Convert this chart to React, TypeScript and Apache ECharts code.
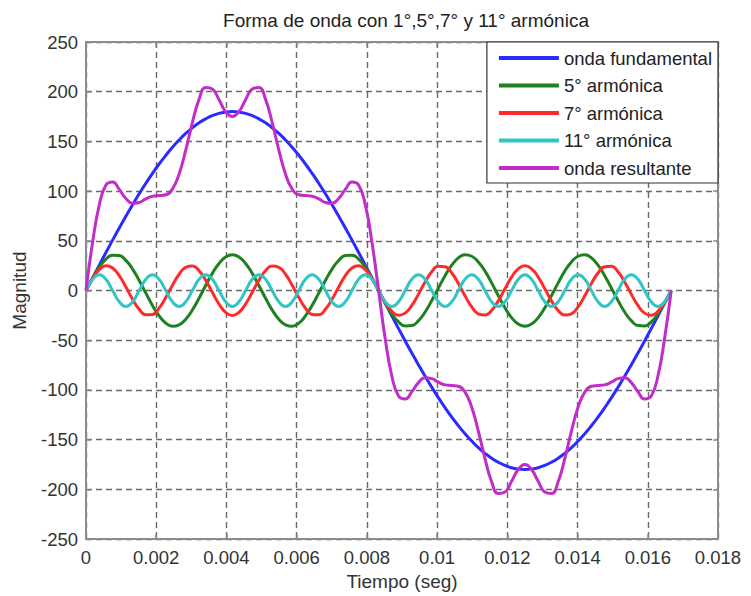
import React, { useEffect, useRef } from "react";
import * as echarts from "echarts";

const TITLE = "Forma de onda con 1°,5°,7° y 11° armónica";
const X_NAME = "Tiempo (seg)";
const Y_NAME = "Magnitud";
const SERIES_NAMES = ["onda fundamental", "5° armónica", "7° armónica", "11° armónica", "onda resultante"];
const SERIES_COLORS = ["#2b2bff", "#1f801f", "#ff2a2a", "#33c4c4", "#c22cc8"];

const TIME = [
  0, 0.000189, 0.000379, 0.000568, 0.000758, 0.000947, 0.001136, 0.001326, 0.001515, 0.001705,
  0.001894, 0.002083, 0.002273, 0.002462, 0.002652, 0.002841, 0.00303, 0.00322, 0.003409, 0.003598,
  0.003788, 0.003977, 0.004167, 0.004356, 0.004545, 0.004735, 0.004924, 0.005114, 0.005303, 0.005492,
  0.005682, 0.005871, 0.006061, 0.00625, 0.006439, 0.006629, 0.006818, 0.007008, 0.007197, 0.007386,
  0.007576, 0.007765, 0.007955, 0.008144, 0.008333, 0.008523, 0.008712, 0.008902, 0.009091, 0.00928,
  0.00947, 0.009659, 0.009848, 0.010038, 0.010227, 0.010417, 0.010606, 0.010795, 0.010985, 0.011174,
  0.011364, 0.011553, 0.011742, 0.011932, 0.012121, 0.012311, 0.0125, 0.012689, 0.012879, 0.013068,
  0.013258, 0.013447, 0.013636, 0.013826, 0.014015, 0.014205, 0.014394, 0.014583, 0.014773, 0.014962,
  0.015152, 0.015341, 0.01553, 0.01572, 0.015909, 0.016098, 0.016288, 0.016477, 0.016667,
];

const FUND = [
  0, 12.8, 25.6, 38.3, 50.7, 62.9, 74.8, 86.3, 97.3, 107.9, 117.9, 127.3, 136.0, 144.1, 151.4, 158.0, 163.7, 168.7, 172.7, 175.9, 178.2, 179.5, 180,
  179.5, 178.2, 175.9, 172.7, 168.7, 163.7, 158.0, 151.4, 144.1, 136.0, 127.3, 117.9, 107.9, 97.3, 86.3, 74.8, 62.9, 50.7, 38.3, 25.6, 12.8, 0,
  -12.8, -25.6, -38.3, -50.7, -62.9, -74.8, -86.3, -97.3, -107.9, -117.9, -127.3, -136.0, -144.1, -151.4, -158.0, -163.7, -168.7, -172.7, -175.9, -178.2, -179.5, -180,
  -179.5, -178.2, -175.9, -172.7, -168.7, -163.7, -158.0, -151.4, -144.1, -136.0, -127.3, -117.9, -107.9, -97.3, -86.3, -74.8, -62.9, -50.7, -38.3, -25.6, -12.8, 0,
];

const H5 = [
  0, 12.6, 23.6, 31.6, 35.6, 35.2, 30.3, 21.6, 10.1, -2.6, -15.0, -25.5, -32.8, -35.9, -34.5, -28.8, -19.5, -7.7, 5.1, 17.3, 27.2, 33.7, 36,
  33.7, 27.2, 17.3, 5.1, -7.7, -19.5, -28.8, -34.5, -35.9, -32.8, -25.5, -15.0, -2.6, 10.1, 21.6, 30.3, 35.2, 35.6, 31.6, 23.6, 12.6, 0,
  -12.6, -23.6, -31.6, -35.6, -35.2, -30.3, -21.6, -10.1, 2.6, 15.0, 25.5, 32.8, 35.9, 34.5, 28.8, 19.5, 7.7, -5.1, -17.3, -27.2, -33.7, -36,
  -33.7, -27.2, -17.3, -5.1, 7.7, 19.5, 28.8, 34.5, 35.9, 32.8, 25.5, 15.0, 2.6, -10.1, -21.6, -30.3, -35.2, -35.6, -31.6, -23.6, -12.6, 0,
];

const H7 = [
  0, 12.0, 21.0, 24.9, 22.7, 15.0, 3.6, -8.7, -18.9, -24.4, -24.0, -17.7, -7.0, 5.3, 16.4, 23.4, 24.7, 20.0, 10.4, -1.8, -13.5, -21.9, -25,
  -21.9, -13.5, -1.8, 10.4, 20.0, 24.7, 23.4, 16.4, 5.3, -7.0, -17.7, -24.0, -24.4, -18.9, -8.7, 3.6, 15.0, 22.7, 24.9, 21.0, 12.0, 0,
  -12.0, -21.0, -24.9, -22.7, -15.0, -3.6, 8.7, 18.9, 24.4, 24.0, 17.7, 7.0, -5.3, -16.4, -23.4, -24.7, -20.0, -10.4, 1.8, 13.5, 21.9, 25,
  21.9, 13.5, 1.8, -10.4, -20.0, -24.7, -23.4, -16.4, -5.3, 7.0, 17.7, 24.0, 24.4, 18.9, 8.7, -3.6, -15.0, -22.7, -24.9, -21.0, -12.0, 0,
];

const H11 = [
  0, 11.3, 16, 11.3, 0, -11.3, -16, -11.3, 0, 11.3, 16, 11.3, 0, -11.3, -16, -11.3, 0, 11.3, 16, 11.3, 0, -11.3, -16,
  -11.3, 0, 11.3, 16, 11.3, 0, -11.3, -16, -11.3, 0, 11.3, 16, 11.3, 0, -11.3, -16, -11.3, 0, 11.3, 16, 11.3, 0,
  -11.3, -16, -11.3, 0, 11.3, 16, 11.3, 0, -11.3, -16, -11.3, 0, 11.3, 16, 11.3, 0, -11.3, -16, -11.3, 0, 11.3, 16,
  11.3, 0, -11.3, -16, -11.3, 0, 11.3, 16, 11.3, 0, -11.3, -16, -11.3, 0, 11.3, 16, 11.3, 0, -11.3, -16, -11.3, 0,
];

const RES = [
  0, 48.7, 86.2, 106.1, 109.1, 101.8, 92.6, 87.8, 88.6, 92.2, 94.9, 95.5, 96.3, 102.2, 117.3, 141.3, 169.0, 192.3, 204.2, 202.7, 191.9, 180.0, 175,
  180.0, 191.9, 202.7, 204.2, 192.3, 169.0, 141.3, 117.3, 102.2, 96.3, 95.5, 94.9, 92.2, 88.6, 87.8, 92.6, 101.8, 109.1, 106.1, 86.2, 48.7, 0,
  -48.7, -86.2, -106.1, -109.1, -101.8, -92.6, -87.8, -88.6, -92.2, -94.9, -95.5, -96.3, -102.2, -117.3, -141.3, -169.0, -192.3, -204.2, -202.7, -191.9, -180.0, -175,
  -180.0, -191.9, -202.7, -204.2, -192.3, -169.0, -141.3, -117.3, -102.2, -96.3, -95.5, -94.9, -92.2, -88.6, -87.8, -92.6, -101.8, -109.1, -106.1, -86.2, -48.7, 0,
];

const SERIES_VALUES = [FUND, H5, H7, H11, RES];

const FONT = "'Liberation Sans', Arial, Helvetica, sans-serif";
const FRAME = "#8c8c8c";
const GRIDC = "#6a6a6a";
const TXT = "#333333";

export default function App() {
  const ref = useRef<HTMLDivElement>(null);

  useEffect(() => {
    if (!ref.current) return;
    const chart = echarts.init(ref.current, undefined, { renderer: "svg" });
    const splitLine = { show: true, lineStyle: { color: GRIDC, width: 1.4, type: [6, 4] as any } };
    const frameLine = { show: true, onZero: false, lineStyle: { color: FRAME, width: 2 } };
    const tick = { show: true, inside: true, length: 5, lineStyle: { color: FRAME, width: 1.5 } };
    const xFmt = (v: number) => (v === 0 ? "0" : String(parseFloat(v.toFixed(4))));

    chart.setOption({
      animation: false,
      backgroundColor: "#ffffff",
      textStyle: { fontFamily: FONT },
      title: {
        text: TITLE,
        left: 401,
        textAlign: "center",
        top: 6,
        textStyle: { fontFamily: FONT, fontSize: 19, fontWeight: "normal", color: "#222" },
      },
      grid: { left: 86, right: 33, top: 42, bottom: 52, containLabel: false },
      legend: {
        orient: "vertical",
        right: 33,
        top: 42,
        data: SERIES_NAMES,
        icon: "rect",
        itemWidth: 60,
        itemHeight: 4,
        itemGap: 7.5,
        padding: [6, 6, 5, 12],
        backgroundColor: "#ffffff",
        borderColor: "#333333",
        borderWidth: 1.2,
        borderRadius: 0,
        textStyle: { fontFamily: FONT, fontSize: 18.5, color: "#222", lineHeight: 20 },
      },
      xAxis: [
        {
          type: "value",
          min: 0,
          max: 0.018,
          interval: 0.002,
          name: X_NAME,
          nameLocation: "middle",
          nameGap: 30,
          nameTextStyle: { fontFamily: FONT, fontSize: 19, color: TXT },
          axisLine: frameLine,
          axisTick: tick,
          axisLabel: { fontFamily: FONT, fontSize: 18.5, color: TXT, margin: 9, formatter: xFmt },
          splitLine,
        },
        {
          type: "value",
          position: "top",
          min: 0,
          max: 0.018,
          interval: 0.002,
          axisLine: frameLine,
          axisTick: tick,
          axisLabel: { show: false },
          splitLine: { show: false },
        },
      ],
      yAxis: [
        {
          type: "value",
          min: -250,
          max: 250,
          interval: 50,
          name: Y_NAME,
          nameLocation: "middle",
          nameGap: 57,
          nameTextStyle: { fontFamily: FONT, fontSize: 19, color: TXT },
          axisLine: frameLine,
          axisTick: tick,
          axisLabel: { fontFamily: FONT, fontSize: 18.5, color: TXT, margin: 8 },
          splitLine,
        },
        {
          type: "value",
          position: "right",
          min: -250,
          max: 250,
          interval: 50,
          axisLine: frameLine,
          axisTick: tick,
          axisLabel: { show: false },
          splitLine: { show: false },
        },
      ],
      series: SERIES_NAMES.map((name, i) => ({
        name,
        type: "line",
        xAxisIndex: 0,
        yAxisIndex: 0,
        data: TIME.map((t, k) => [t, SERIES_VALUES[i][k]]),
        showSymbol: false,
        smooth: 0.5,
        lineStyle: { color: SERIES_COLORS[i], width: 3 },
        itemStyle: { color: SERIES_COLORS[i] },
        z: 2 + i,
      })),
    });

    return () => chart.dispose();
  }, []);

  return (
    <div
      ref={ref}
      style={{ position: "fixed", left: 0, top: 0, width: 751, height: 596, background: "#fff" }}
    />
  );
}
